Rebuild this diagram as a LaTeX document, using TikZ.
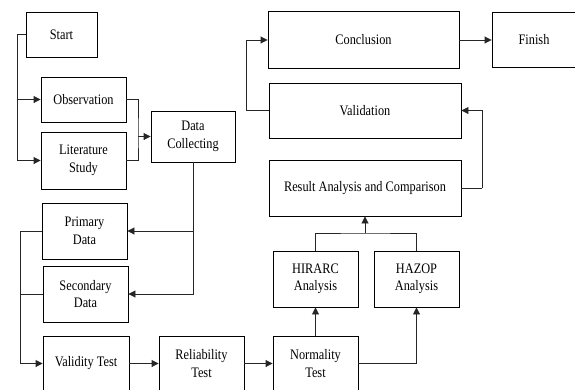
\documentclass[tikz,border=0pt]{standalone}
\usepackage{fontspec}
\setmainfont{Liberation Serif}[FakeStretch=0.85]
\usetikzlibrary{arrows.meta}
\begin{document}
\begin{tikzpicture}[x=1pt,y=-1pt,
  box/.style={draw=black, line width=0.9pt, inner sep=0pt, align=center,
    font=\fontsize{14.5}{17.5}\selectfont},
  conn/.style={draw=black!85, line width=0.9pt},
  arr/.style={conn, -{Triangle[length=7pt,width=7pt]}}]
\useasboundingbox[clip] (0,0) rectangle (575,389);
\fill[white] (0,0) rectangle (575,389);
\node[box, minimum width=71pt, minimum height=45pt] (start) at (61.5,34.5) {Start};
\node[box, minimum width=85pt, minimum height=45pt] (obs) at (83.5,99.5) {Observation};
\node[box, minimum width=85pt, minimum height=57pt] (lit) at (83.5,160.5) {Literature\\Study};
\node[box, minimum width=84pt, minimum height=51pt] (data) at (193,136.5) {Data\\Collecting};
\node[box, minimum width=85pt, minimum height=56pt] (prim) at (84.5,231) {Primary\\Data};
\node[box, minimum width=85pt, minimum height=56pt] (sec) at (85.5,294) {Secondary\\Data};
\node[box, minimum width=86pt, minimum height=55pt] (val) at (86,363.5) {Validity Test};
\node[box, minimum width=85pt, minimum height=55pt] (rel) at (201.5,363.5) {Reliability\\Test};
\node[box, minimum width=85pt, minimum height=55pt] (norm) at (315.5,363.5) {Normality\\Test};
\node[box, minimum width=85pt, minimum height=56pt] (hir) at (315.5,279) {HIRARC\\Analysis};
\node[box, minimum width=85pt, minimum height=56pt] (haz) at (416.5,279) {HAZOP\\Analysis};
\node[box, minimum width=192pt, minimum height=56pt] (res) at (365,188) {Result Analysis and Comparison};
\node[box, minimum width=192pt, minimum height=55pt] (vld) at (365,110.5) {Validation};
\node[box, minimum width=191pt, minimum height=57pt] (conc) at (363.5,40) {Conclusion};
\node[box, minimum width=84pt, minimum height=55pt] (fin) at (534,40) {Finish};
% connectors
\coordinate (sl) at (17,34.5);
\draw[conn] (start.west) -- (sl);
\draw[arr] (sl) |- (obs.west);
\draw[arr] (sl) |- (lit.west);
\coordinate (j1) at (138,136.5);
\draw[conn] (obs.east) -| (j1) |- (lit.east);
\draw[arr] (j1) -- (data.west);
\draw[arr] (data.south) |- (prim.east);
\draw[arr] (data.south) |- (sec.east);
\coordinate (j2) at (20,231);
\draw[conn] (prim.west) -- (j2);
\draw[conn] (sec.west) -- (j2 |- sec.west);
\draw[arr] (j2) |- (val.west);
\draw[arr] (val.east) -- (rel.west);
\draw[arr] (rel.east) -- (norm.west);
\draw[arr] (norm.north) -- (hir.south);
\draw[arr] (norm.east) -| (haz.south);
\coordinate (j3) at (365,233);
\draw[conn] (hir.north) |- (j3) -| (haz.north);
\draw[arr] (j3) -- (res.south);
\coordinate (j4) at (482,188);
\draw[conn] (res.east) -- (j4);
\draw[arr] (j4) |- (vld.east);
\coordinate (j5) at (246,110.5);
\draw[conn] (vld.west) -- (j5);
\draw[arr] (j5) |- (conc.west);
\draw[arr] (conc.east) -- (fin.west);
\end{tikzpicture}
\end{document}
